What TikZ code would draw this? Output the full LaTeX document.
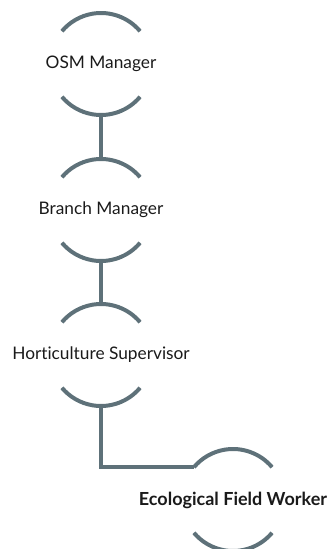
\documentclass[tikz,border=0pt]{standalone}
\usepackage{fontspec}
\usetikzlibrary{calc}
\setmainfont{Lato}[Ligatures=NoCommon]
\definecolor{linec}{HTML}{5E7179}
\definecolor{textc}{HTML}{1A1A1A}
\begin{document}
\begin{tikzpicture}[x=1pt,y=-1pt,
  lbl/.style={font=\fontsize{17.3}{19}\selectfont, text=textc, inner sep=0pt},
  boldlbl/.style={lbl, font=\fontsize{18}{20}\selectfont\bfseries},
  arcs/.style={draw=linec, line width=4pt},
  conn/.style={draw=linec, line width=4pt}]
\useasboundingbox (0,0) rectangle (330,549);
\newcommand{\twoarcs}[1]{%
  \draw[arcs] (#1) ++(40:51) arc[start angle=40, end angle=140, radius=51];
  \draw[arcs] (#1) ++(-40:51) arc[start angle=-40, end angle=-140, radius=51];
}
\node[lbl] (osm) at (101,64) {OSM Manager};
\node[lbl] (br) at (101,210) {Branch Manager};
\node[lbl] (hs) at (101,355) {Horticulture Supervisor};
\node[boldlbl] (eco) at (233,500) {Ecological Field Worker};
\twoarcs{osm.center}
\twoarcs{br.center}
\twoarcs{hs.center}
\twoarcs{eco.center}
\coordinate (osmB) at ($(osm.center)+(0,51)$);
\coordinate (brT) at ($(br.center)+(0,-51)$);
\coordinate (brB) at ($(br.center)+(0,51)$);
\coordinate (hsT) at ($(hs.center)+(0,-51)$);
\coordinate (hsB) at ($(hs.center)+(0,51)$);
\coordinate (ecoL) at ($(eco.center)+(-140:51)$);
\draw[conn] (osmB) -- (brT);
\draw[conn] (brB) -- (hsT);
\draw[conn] (hsB) |- (ecoL);
\end{tikzpicture}
\end{document}
